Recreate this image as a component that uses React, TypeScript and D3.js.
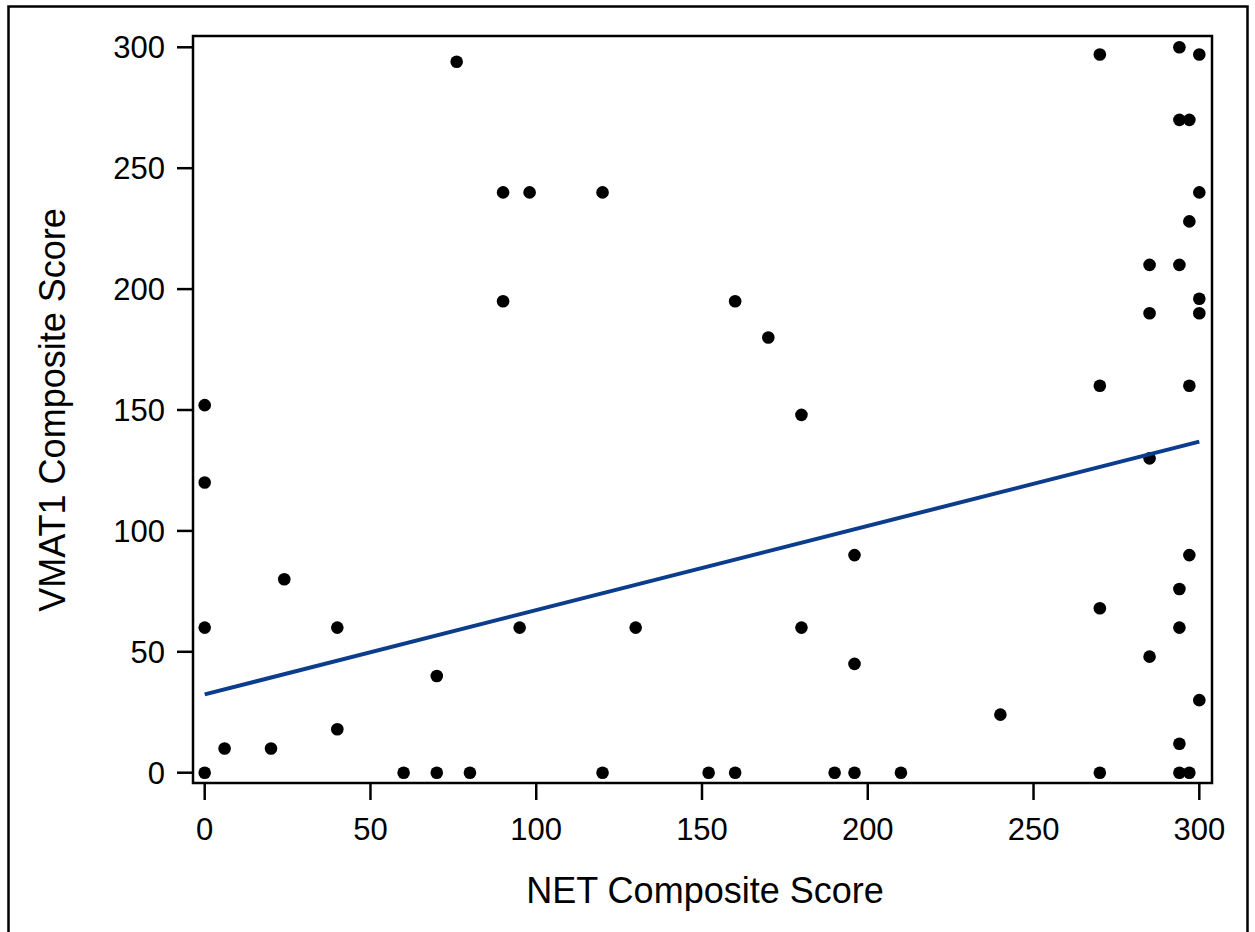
import React from "react";
import * as d3 from "d3";

const netScore = [0, 0, 0, 0, 6, 20, 24, 40, 40, 60, 70, 70, 80, 76, 90, 90, 98, 95, 120, 120, 130, 152, 160, 160, 170, 180, 180, 190, 196, 196, 196, 210, 240, 270, 270, 270, 270, 285, 285, 285, 285, 294, 294, 297, 300, 300, 297, 294, 300, 300, 297, 297, 294, 294, 300, 294, 294, 297];
const vmat1Score = [0, 60, 120, 152, 10, 10, 80, 60, 18, 0, 0, 40, 0, 294, 240, 195, 240, 60, 240, 0, 60, 0, 195, 0, 180, 148, 60, 0, 0, 90, 45, 0, 24, 297, 160, 68, 0, 210, 190, 130, 48, 300, 270, 270, 297, 240, 228, 210, 196, 190, 160, 90, 76, 60, 30, 12, 0, 0];
const fitX = [0, 300];
const fitY = [32.4, 136.9];
const xTicks = [0, 50, 100, 150, 200, 250, 300];
const yTicks = [0, 50, 100, 150, 200, 250, 300];
const xLabel = "NET Composite Score";
const yLabel = "VMAT1 Composite Score";

export default function App() {
  const W = 1255, H = 932;
  const frame = { left: 193, top: 36, right: 1212, bottom: 783 };
  const x = d3.scaleLinear().domain([0, 300]).range([204.7, 1199.3]);
  const y = d3.scaleLinear().domain([0, 300]).range([772.7, 47.3]);
  const font = "'Liberation Sans', Arial, sans-serif";
  const line = d3.line<number>().x((d) => x(d)).y((_, i) => y(fitY[i]));
  const pts = netScore.map((v, i) => ({ x: v, y: vmat1Score[i] }));

  return (
    <svg width={W} height={H} style={{ position: "absolute", left: 0, top: 0, background: "#fff" }} fontFamily={font}>
      <rect x={0} y={0} width={W} height={H} fill="#fff" />
      <rect x={8.5} y={6.5} width={1239} height={930} fill="none" stroke="#000" strokeWidth={2.5} />
      <rect
        x={frame.left}
        y={frame.top}
        width={frame.right - frame.left}
        height={frame.bottom - frame.top}
        fill="none"
        stroke="#000"
        strokeWidth={2.5}
      />
      {yTicks.map((t) => (
        <g key={"y" + t}>
          <line x1={177} x2={frame.left} y1={y(t)} y2={y(t)} stroke="#000" strokeWidth={2.5} />
          <text x={165} y={y(t)} dy="0.35em" textAnchor="end" fontSize={31} fill="#000">
            {t}
          </text>
        </g>
      ))}
      {xTicks.map((t) => (
        <g key={"x" + t}>
          <line x1={x(t)} x2={x(t)} y1={frame.bottom} y2={800} stroke="#000" strokeWidth={2.5} />
          <text x={x(t)} y={840} textAnchor="middle" fontSize={31} fill="#000">
            {t}
          </text>
        </g>
      ))}
      <text x={705} y={902.7} textAnchor="middle" fontSize={36} fill="#000">
        {xLabel}
      </text>
      <text transform="translate(65,410) rotate(-90)" textAnchor="middle" fontSize={36} fill="#000">
        {yLabel}
      </text>
      {pts.map((p, i) => (
        <circle key={i} cx={x(p.x)} cy={y(p.y)} r={6.3} fill="#000" />
      ))}
      <path d={line(fitX) || ""} fill="none" stroke="#0b3d8c" strokeWidth={4} />
    </svg>
  );
}
